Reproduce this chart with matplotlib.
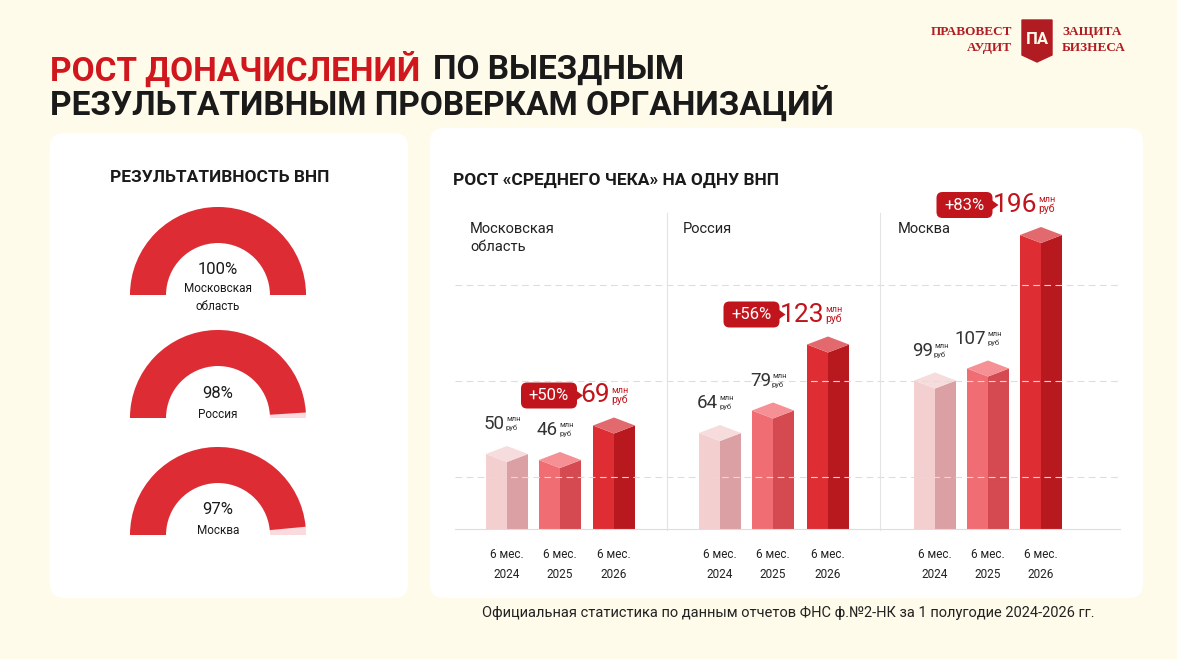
import matplotlib
matplotlib.use("Agg")
import matplotlib.pyplot as plt
from matplotlib.patches import FancyBboxPatch, Polygon, Wedge

plt.rcParams['font.family'] = ['Roboto', 'DejaVu Sans']

regions = ["Московская\nобласть", "Россия", "Москва"]
periods = ["6 мес.\n2024", "6 мес.\n2025", "6 мес.\n2026"]
values = [[50, 46, 69], [64, 79, 123], [99, 107, 196]]
growth = ["+50%", "+56%", "+83%"]
gauge_labels = ["Московская\nобласть", "Россия", "Москва"]
gauge_pct = [100, 98, 97]

BG = "#fffbea"
fig = plt.figure(figsize=(11.77, 6.59), dpi=100, facecolor=BG)
ax = fig.add_axes([0, 0, 1, 1])
ax.set_xlim(0, 1177); ax.set_ylim(659, 0); ax.axis("off")

# title
ax.text(50, 70, "РОСТ ДОНАЧИСЛЕНИЙ", color="#d0171d", fontsize=24, fontweight="bold", va="center")
ax.text(433, 70, "ПО ВЫЕЗДНЫМ", color="#1a1a1a", fontsize=24, fontweight="bold", va="center")
ax.text(50, 104, "РЕЗУЛЬТАТИВНЫМ ПРОВЕРКАМ ОРГАНИЗАЦИЙ", color="#1a1a1a", fontsize=24, fontweight="bold", va="center")

# logo
ax.text(1012, 32, "ПРАВОВЕСТ", color="#b01c22", fontsize=9.5, fontweight="bold", ha="right", va="center", family="Liberation Serif")
ax.text(1012, 48, "АУДИТ", color="#b01c22", fontsize=9.5, fontweight="bold", ha="right", va="center", family="Liberation Serif")
ax.text(1062, 32, "ЗАЩИТА", color="#b01c22", fontsize=9.5, fontweight="bold", ha="left", va="center", family="Liberation Serif")
ax.text(1062, 48, "БИЗНЕСА", color="#b01c22", fontsize=9.5, fontweight="bold", ha="left", va="center", family="Liberation Serif")
ax.add_patch(Polygon([(1022, 20), (1052, 20), (1052, 55), (1037, 62), (1022, 55)], closed=True, color="#b01c22"))
ax.text(1037, 40, "ПА", color=BG, fontsize=12, fontweight="bold", ha="center", va="center")

# panels
ax.add_patch(FancyBboxPatch((50, 133), 358, 465, boxstyle="round,pad=0,rounding_size=14", fc="white", ec="none"))
ax.add_patch(FancyBboxPatch((430, 128), 713, 470, boxstyle="round,pad=0,rounding_size=14", fc="white", ec="none"))

# gauges
ax.text(220, 178, "РЕЗУЛЬТАТИВНОСТЬ ВНП", fontsize=12.5, fontweight="bold", ha="center", va="center", color="#1a1a1a")
gcy = [295, 418, 535]
for cy, p, lab in zip(gcy, gauge_pct, gauge_labels):
    R, r = 88, 52
    end = -180 + 180 * p / 100
    ax.add_patch(Wedge((218, cy), R, -180, 0, width=R - r, fc="#fadadc", ec="none"))
    ax.add_patch(Wedge((218, cy), R, -180, end, width=R - r, fc="#dd2c33", ec="none"))
    ax.text(218, cy - 25, f"{p}%", fontsize=12, ha="center", va="center", color="#1a1a1a")
    if "\n" in lab:
        ax.text(218, cy + 2, lab, fontsize=8.5, ha="center", va="center", color="#1a1a1a", linespacing=1.5)
    else:
        ax.text(218, cy - 4, lab, fontsize=8.5, ha="center", va="center", color="#1a1a1a")

# right chart
ax.text(453, 180, "РОСТ «СРЕДНЕГО ЧЕКА» НА ОДНУ ВНП", fontsize=12.5, fontweight="bold", va="center", color="#1a1a1a")
base = 529
scale = 1.5
for gy in [285, 381, 477]:
    ax.plot([455, 1120], [gy, gy], color="#dddddd", lw=0.8, ls=(0, (6, 4)))
ax.plot([455, 1120], [base, base], color="#dddddd", lw=0.8)
for sx in [667, 880]:
    ax.plot([sx, sx], [213, 530], color="#e4e4e4", lw=0.8)

centers = [[507, 560, 614], [720, 773, 828], [935, 988, 1041]]
rx = [470, 683, 898]
front = ["#f3cfd0", "#f06e73", "#de2d33"]
side = ["#dba0a3", "#d44a50", "#b8191f"]
topc = ["#f6dcdd", "#f59095", "#e26a6f"]
hw, dh = 21, 8
for gi in range(3):
    ax.text(rx[gi], 222, regions[gi], fontsize=10.5, va="top", color="#222222", linespacing=1.4)
    for bi in range(3):
        cx = centers[gi][bi]
        v = values[gi][bi]
        top = base - v * scale
        ax.add_patch(Polygon([(cx - hw, base), (cx - hw, top), (cx, top + dh), (cx, base)], closed=True, fc=front[bi], ec="none"))
        ax.add_patch(Polygon([(cx, base), (cx, top + dh), (cx + hw, top), (cx + hw, base)], closed=True, fc=side[bi], ec="none"))
        ax.add_patch(Polygon([(cx - hw, top), (cx, top - dh), (cx + hw, top), (cx, top + dh)], closed=True, fc=topc[bi], ec="none"))
        ax.text(cx, 565, periods[bi], fontsize=8.5, ha="center", va="center", color="#222222", linespacing=1.7)
        big = bi == 2
        ty = top - dh - (22 if big else 22)
        col = "#c0151c" if big else "#333333"
        fs = 19 if big else 13.5
        lx = cx - 2 if not big else cx - 4
        ax.text(lx, ty, str(v), fontsize=fs, ha="right", va="center", color=col)
        ax.text(lx + 1, ty - 5, "млн", fontsize=5.5 if not big else 6.5, ha="left", va="center", color=col)
        ax.text(lx + 1, ty + 4, "руб", fontsize=5.5 if not big else 7.5, ha="left", va="center", color=col)
        if big:
            bx = lx - len(str(v)) * 11.5 - 66
            ax.add_patch(FancyBboxPatch((bx, ty - 13), 56, 26, boxstyle="round,pad=0,rounding_size=6", fc="#c0151c", ec="none"))
            ax.add_patch(Polygon([(bx + 55, ty - 5), (bx + 62, ty), (bx + 55, ty + 5)], closed=True, fc="#c0151c", ec="none"))
            ax.text(bx + 28, ty, growth[gi], fontsize=12, ha="center", va="center", color="white")

ax.text(1095, 613, "Официальная статистика по данным отчетов ФНС ф.№2-НК за 1 полугодие 2024-2026 гг.",
        fontsize=10.5, ha="right", va="center", color="#222222")

fig.savefig("out.png", dpi=100, facecolor=BG)
